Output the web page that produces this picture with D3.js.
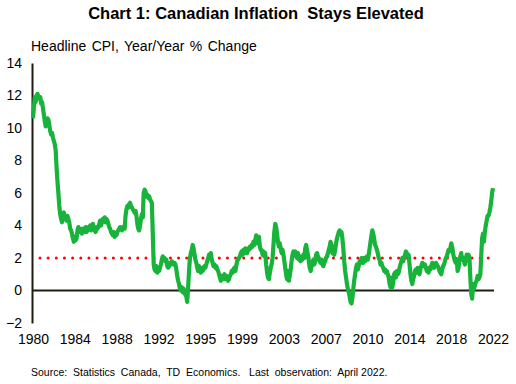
<!DOCTYPE html>
<html>
<head>
<meta charset="utf-8">
<script src="https://cdn.jsdelivr.net/npm/d3@7"></script>
<style>
  body { margin: 0; background: #fff; }
  svg text { font-family: "Liberation Sans", Arial, sans-serif; fill: #000; white-space: pre; }
</style>
</head>
<body>
<svg id="chart" width="516" height="384"></svg>
<script>
// headline CPI y/y %, monthly (Jan 1980 .. Apr 2022)
const cpi1980s = [
  [10.6, 11.3, 11.9, 11.6, 12.0, 12.1, 11.9, 11.8, 11.9, 11.5, 11.6, 11.2], // 1980
  [10.8, 10.4, 10.1, 10.3, 10.6, 10.5, 10.2, 9.8, 9.6, 9.7, 9.4, 9.2],
  [9.0, 8.6, 7.6, 6.7, 6.0, 5.2, 4.7, 4.4, 4.2, 4.6, 4.8, 4.5],
  [4.5, 4.3, 4.6, 4.4, 4.2, 3.8, 3.7, 3.5, 3.2, 3.0, 3.3, 3.1],
  [3.2, 3.7, 3.9, 3.6, 3.8, 3.7, 3.5, 3.8, 3.6, 3.7, 3.9, 3.6],
  [3.7, 3.9, 3.8, 4.0, 3.7, 3.9, 4.1, 3.8, 3.7, 3.6, 3.9, 3.8],
  [3.9, 4.1, 4.3, 4.0, 4.2, 4.4, 4.3, 4.5, 4.2, 4.4, 4.3, 4.1],
  [3.9, 3.8, 3.6, 3.5, 3.4, 3.6, 3.3, 3.5, 3.4, 3.6, 3.7, 3.8],
  [3.9, 3.8, 3.7, 3.9, 3.8, 3.8, 4.6, 5.0, 5.2, 5.1, 5.3, 5.4],
  [5.2, 5.1, 5.0, 4.9, 4.8, 4.9, 4.6, 4.1, 3.8, 3.7, 4.0, 4.4]
];
const cpi1990s = [
  [4.7, 4.5, 6.0, 6.2, 6.1, 5.8, 5.9, 5.7, 5.8, 5.6, 5.5, 5.4], // 1990
  [3.5, 1.6, 1.3, 1.2, 1.5, 1.1, 1.3, 1.2, 1.4, 1.6, 1.9, 2.1],
  [1.9, 2.0, 1.8, 1.9, 1.5, 1.4, 1.5, 1.7, 1.6, 1.8, 1.7, 1.6],
  [1.7, 1.6, 1.3, 0.9, 0.6, 0.4, 0.1, 0.0, 0.2, -0.1, 0.1, -0.2],
  [-0.2, -0.4, -0.7, 0.2, 1.2, 2.0, 2.3, 2.5, 2.8, 2.6, 2.2, 1.9],
  [1.7, 1.4, 1.2, 1.5, 1.3, 1.1, 1.4, 1.2, 1.3, 1.5, 1.4, 1.6],
  [1.8, 2.0, 2.2, 2.0, 2.3, 1.9, 1.7, 1.5, 1.6, 1.4, 1.5, 1.3],
  [1.2, 1.0, 0.8, 0.6, 0.9, 0.7, 0.8, 1.0, 0.7, 0.9, 0.8, 0.6],
  [0.7, 0.9, 1.0, 1.2, 1.1, 1.3, 1.4, 1.2, 1.5, 1.8, 1.9, 2.0],
  [2.1, 2.3, 2.4, 2.2, 2.5, 2.3, 2.6, 2.4, 2.3, 2.6, 2.5, 2.7]
];
const cpi2000s = [
  [2.6, 2.8, 2.7, 3.0, 2.8, 3.1, 3.4, 3.2, 2.9, 3.3, 2.7, 2.5], // 2000
  [2.5, 2.2, 2.4, 2.1, 2.3, 1.6, 1.1, 0.8, 0.7, 1.1, 1.4, 1.6],
  [2.0, 2.8, 3.6, 4.1, 3.9, 3.5, 3.0, 2.7, 2.9, 2.6, 2.3, 2.5],
  [2.2, 1.8, 1.4, 1.0, 0.7, 1.2, 0.6, 0.9, 1.3, 1.8, 2.2, 2.4],
  [2.2, 2.4, 2.1, 2.0, 2.3, 1.9, 2.1, 1.8, 2.0, 1.9, 2.2, 2.0],
  [2.6, 2.8, 2.5, 2.2, 1.8, 1.4, 1.2, 1.5, 1.7, 1.9, 1.6, 1.8],
  [2.2, 2.3, 2.1, 2.0, 1.8, 1.7, 1.9, 1.6, 1.5, 1.7, 1.8, 2.0],
  [2.1, 2.3, 2.5, 2.7, 3.0, 2.8, 2.3, 2.4, 2.2, 2.5, 2.9, 3.2],
  [3.4, 3.6, 3.7, 3.5, 3.6, 3.2, 2.6, 1.8, 1.2, 0.8, 0.4, 0.1],
  [-0.1, -0.4, -0.7, -0.8, -0.5, 0.1, 0.6, 1.0, 1.4, 1.6, 1.3, 1.5]
];
const cpi2010s = [
  [1.8, 1.7, 2.0, 1.9, 1.7, 2.0, 1.8, 1.9, 2.1, 1.9, 2.2, 2.6], // 2010
  [3.0, 3.4, 3.7, 3.5, 3.2, 2.8, 2.7, 2.5, 2.3, 2.0, 1.9, 1.6],
  [1.7, 1.5, 1.4, 1.2, 1.3, 1.1, 1.2, 1.0, 0.8, 0.4, 0.2, 0.8],
  [0.2, 0.5, 1.0, 1.1, 0.8, 1.2, 1.0, 1.1, 1.4, 1.6, 1.8, 2.0],
  [1.8, 2.0, 2.2, 2.4, 2.3, 2.1, 2.2, 1.6, 1.0, 0.6, 0.4, 0.7],
  [0.9, 1.2, 1.3, 1.1, 1.4, 1.2, 1.0, 1.3, 1.5, 1.7, 1.6, 1.5],
  [1.6, 1.4, 1.2, 1.3, 1.1, 1.4, 1.3, 1.5, 1.7, 1.6, 1.4, 1.5],
  [1.7, 1.6, 1.5, 1.4, 1.2, 1.1, 1.0, 1.3, 1.5, 1.6, 1.8, 2.0],
  [2.1, 2.3, 2.5, 2.4, 2.6, 2.9, 2.7, 2.3, 2.0, 1.8, 1.7, 1.9],
  [1.2, 1.4, 1.9, 2.1, 2.3, 1.9, 2.0, 1.8, 1.6, 1.9, 2.2, 2.1]
];
const cpi2020s = [
  [2.2, 2.0, 0.8, -0.2, -0.5, 0.4, 0.1, 0.3, 0.5, 0.6, 0.9, 0.7], // 2020
  [0.8, 1.0, 2.1, 3.2, 3.5, 3.0, 3.6, 4.0, 4.3, 4.6, 4.6, 4.8],
  [5.1, 5.5, 6.0, 6.3] // to April 2022
];
const target = 2;
const yTicks = [-2, 0, 2, 4, 6, 8, 10, 12, 14];
const xLabels = ["1980", "1984", "1988", "1992", "1995", "1999", "2003", "2007", "2010", "2014", "2018", "2022"];

const values = [].concat(...cpi1980s, ...cpi1990s, ...cpi2000s, ...cpi2010s, ...cpi2020s);
const data = values.map((v, i) => ({ date: new Date(1980, i, 1), v: v }));

const svg = d3.select("#chart");
const plotL = 32, plotR = 494, plotT = 63, plotB = 323;

const x = d3.scaleTime()
  .domain(d3.extent(data, d => d.date))
  .range([plotL + 1, 493]);
const y = d3.scaleLinear().domain([-2, 14]).range([plotB, plotT]);
const xl = d3.scalePoint().domain(xLabels).range([33, 493]);

// title + subtitle
svg.append("text")
  .attr("x", 256).attr("y", 19)
  .attr("text-anchor", "middle")
  .style("font-size", "16.5px").style("font-weight", "bold")
  .text("Chart 1: Canadian Inflation  Stays Elevated");
svg.append("text")
  .attr("x", 31).attr("y", 51)
  .style("font-size", "14px").style("word-spacing", "1.5px")
  .text("Headline CPI, Year/Year % Change");

// y axis
const yAxis = svg.append("g")
  .attr("transform", "translate(" + plotL + ",0)")
  .call(d3.axisLeft(y).tickValues(yTicks).tickSize(0).tickPadding(10).tickFormat(d3.format("d")));
yAxis.select(".domain").attr("stroke", "#1f1d12").attr("stroke-width", 2);
yAxis.selectAll("text").style("font-size", "14px").style("font-family", "Liberation Sans, Arial, sans-serif").attr("fill", "#000");

// x labels
const xAxis = svg.append("g")
  .attr("transform", "translate(0," + (plotB + 5) + ")")
  .call(d3.axisBottom(xl).tickSize(0).tickPadding(6));
xAxis.select(".domain").remove();
xAxis.selectAll("text").style("font-size", "14px").style("font-family", "Liberation Sans, Arial, sans-serif").attr("fill", "#000");

// zero line
svg.append("line")
  .attr("x1", plotL).attr("x2", plotR)
  .attr("y1", y(0)).attr("y2", y(0))
  .attr("stroke", "#1f1d12").attr("stroke-width", 2);

// 2% target, red dots
svg.append("line")
  .attr("x1", plotL + 8).attr("x2", 490)
  .attr("y1", y(target)).attr("y2", y(target))
  .attr("stroke", "#ff0000").attr("stroke-width", 3)
  .attr("stroke-linecap", "round")
  .attr("stroke-dasharray", "0 8.15");

// CPI line
const line = d3.line().x(d => x(d.date)).y(d => y(d.v));
svg.append("path")
  .datum(data)
  .attr("d", line)
  .attr("fill", "none")
  .attr("stroke", "#17b33a")
  .attr("stroke-width", 4.2)
  .attr("stroke-linejoin", "round");

// source
svg.append("text")
  .attr("x", 31).attr("y", 376)
  .style("font-size", "10.5px")
  .text("Source:  Statistics  Canada,  TD  Economics.   Last  observation:  April 2022.");
</script>
</body>
</html>
